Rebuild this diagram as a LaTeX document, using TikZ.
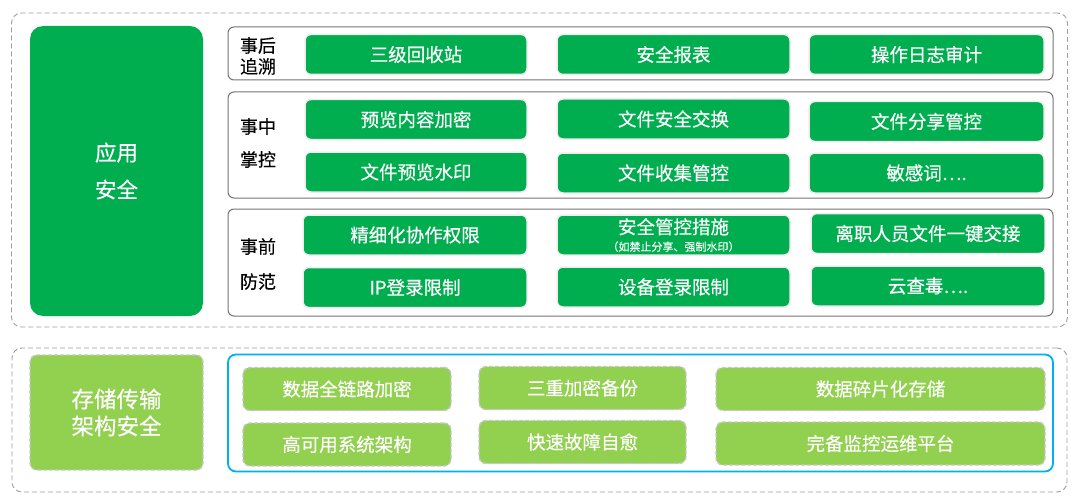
\documentclass[tikz,border=0pt]{standalone}
\usepackage{fontspec}
\setmainfont{Noto Sans CJK SC}[FakeBold=0.35]
\usetikzlibrary{positioning}
\definecolor{dkgreen}{RGB}{0,174,80}
\definecolor{ltgreen}{RGB}{146,208,80}
\definecolor{skyblue}{RGB}{0,176,240}

\begin{document}
\begin{tikzpicture}[x=1pt,y=-1pt,
  outerbox/.style={draw=black!38,dash pattern=on 5pt off 3pt,line width=0.9pt,rounded corners=10pt,minimum width=#1},
  rowbox/.style={draw=black!55,line width=1pt,rounded corners=6pt,minimum width=825pt},
  gbox/.style={draw=black!7,line width=1.5pt,fill=dkgreen,rounded corners=6pt,text=white,font=\fontsize{18.5}{21}\selectfont,minimum height=40pt,inner sep=0pt},
  lbox/.style={draw=black!22,dash pattern=on 4pt off 2pt,line width=1.4pt,fill=ltgreen,rounded corners=7pt,text=white,font=\fontsize{18.5}{21}\selectfont,minimum height=43pt,inner sep=0pt},
  rowlabel/.style={align=center,font=\fontsize{18}{20}\selectfont,inner sep=0pt}]
\useasboundingbox (0,0) rectangle (1080,503);
% application security
\node[outerbox=1056pt,minimum height=314pt] (outa) at (539.5,170) {};
\node[fill=dkgreen,rounded corners=13pt,minimum width=173pt,minimum height=290pt,text=white,align=center,font=\fontsize{21.5}{24}\selectfont] (app) at (116.5,171) {应用\\[13pt]安全};
\node[rowbox,minimum height=53pt] (r1) at (640.5,53.5) {};
\node[rowbox,minimum height=106pt] (r2) at (640.5,145) {};
\node[rowbox,minimum height=107pt] (r3) at (640.5,262.5) {};
\node[rowlabel] (l1) at (258,56) {事后\\[1pt]追溯};
\node[rowlabel] (l2) at (258,143) {事中\\[13pt]掌控};
\node[rowlabel] (l3) at (258,264) {事前\\[15pt]防范};
% after the event
\node[gbox,minimum width=222pt] (a1) at (416,54.5) {三级回收站};
\node[gbox,minimum width=233pt] (a2) at (673.5,54.5) {安全报表};
\node[gbox,minimum width=235pt] (a3) at (926.5,54.5) {操作日志审计};
% during the event
\node[gbox,minimum width=222pt] (b1) at (416,119.5) {预览内容加密};
\node[gbox,minimum width=233pt] (b2) at (673.5,119) {文件安全交换};
\node[gbox,minimum width=235pt] (b3) at (926.5,121.5) {文件分享管控};
\node[gbox,minimum width=222pt] (b4) at (416,172) {文件预览水印};
\node[gbox,minimum width=233pt] (b5) at (673.5,173) {文件收集管控};
\node[gbox,minimum width=235pt] (b6) at (926.5,173) {敏感词….};
% before the event
\node[gbox,minimum width=224pt] (c1) at (415,235) {精细化协作权限};
\node[gbox,minimum width=233pt,align=center] (c2) at (673.5,235) {安全管控措施\\[-4pt]{\fontsize{11}{12}\selectfont（如禁止分享、强制水印）}};
\node[gbox,minimum width=234pt] (c3) at (928,233.5) {离职人员文件一键交接};
\node[gbox,minimum width=224pt] (c4) at (415,287.5) {IP登录限制};
\node[gbox,minimum width=233pt] (c5) at (673.5,287) {设备登录限制};
\node[gbox,minimum width=234pt] (c6) at (928,286) {云查毒….};
% storage and transfer
\node[outerbox=1055pt,minimum height=144pt] (outb) at (539.5,420) {};
\node[lbox,minimum width=173pt,minimum height=115pt,align=center,font=\fontsize{22.5}{25}\selectfont] (store) at (116.5,412.5) {存储传输\\[2pt]架构安全};
\node[draw=skyblue,line width=1.8pt,rounded corners=8pt,minimum width=825pt,minimum height=117pt] (blue) at (640.5,413) {};
\node[lbox,minimum width=208pt] (d1) at (347,389) {数据全链路加密};
\node[lbox,minimum width=207pt] (d2) at (582.5,388) {三重加密备份};
\node[lbox,minimum width=329pt] (d3) at (880.5,389) {数据碎片化存储};
\node[lbox,minimum width=208pt] (d4) at (347,444.5) {高可用系统架构};
\node[lbox,minimum width=207pt] (d5) at (582.5,442) {快速故障自愈};
\node[lbox,minimum width=329pt] (d6) at (880.5,443.5) {完备监控运维平台};
\end{tikzpicture}
\end{document}
